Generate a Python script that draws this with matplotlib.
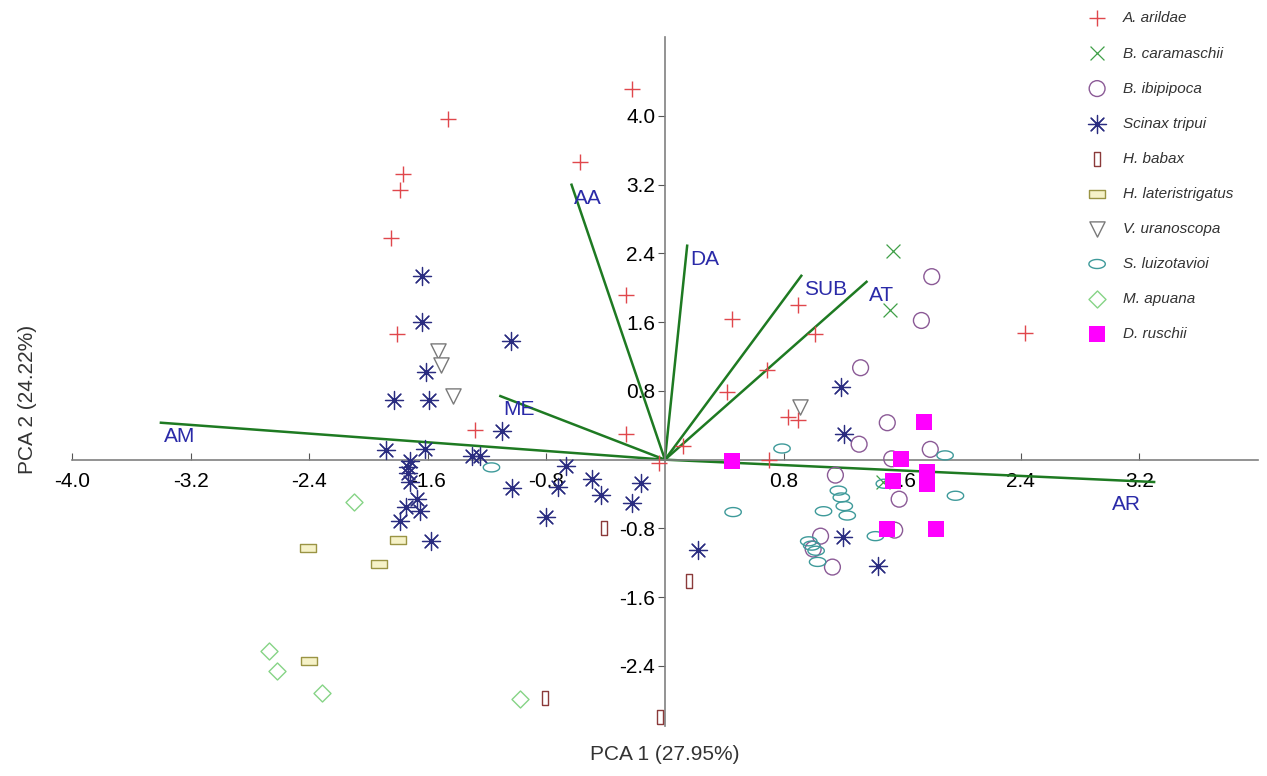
import numpy as np
import matplotlib.pyplot as plt
from matplotlib.ticker import FixedLocator, FormatStrFormatter

plt.rcParams['font.family'] = ['Liberation Sans', 'DejaVu Sans']

# --- scores (PCA 1, PCA 2) ---
arildae_x = [-0.22, -1.46, -0.57, -1.77, -1.79, -1.85, -0.26, -1.81, 0.45, 0.90, 1.01,
             2.43, 0.69, 0.42, 0.12, -0.26, -1.28, -0.04, 0.83, 0.90, 0.70]
arildae_y = [4.31, 3.96, 3.46, 3.32, 3.14, 2.58, 1.92, 1.46, 1.64, 1.80, 1.46,
             1.47, 1.04, 0.79, 0.16, 0.30, 0.35, -0.04, 0.50, 0.46, 0.00]

caramaschii_x = [1.54, 1.52, 1.47]
caramaschii_y = [2.43, 1.74, -0.26]

ibipipoca_x = [1.80, 1.73, 1.32, 1.50, 1.31, 1.79, 1.15, 1.53, 1.58, 1.55, 1.05, 1.00, 1.13]
ibipipoca_y = [2.13, 1.62, 1.07, 0.43, 0.18, 0.12, -0.18, 0.01, -0.46, -0.82, -0.89, -1.04, -1.25]

tripui_x = [-1.64, -1.64, -1.04, -1.61, -1.83, -1.59, -1.10, -1.88, -1.62, -1.72, -1.30,
            -1.25, -1.73, -1.73, -1.72, -1.67, -1.75, -1.65, -1.79, -1.58, -1.03, -0.67,
            -0.72, -0.49, -0.43, -0.16, -0.22, -0.80, 0.22, 1.19, 1.21, 1.20, 1.44]
tripui_y = [2.14, 1.60, 1.38, 1.02, 0.69, 0.69, 0.33, 0.11, 0.13, -0.01, 0.04,
            0.04, -0.08, -0.16, -0.26, -0.46, -0.55, -0.60, -0.71, -0.95, -0.33, -0.07,
            -0.32, -0.22, -0.41, -0.27, -0.50, -0.67, -1.05, 0.85, 0.30, -0.90, -1.24]

babax_x = [-0.41, 0.16, -0.81, -0.03]
babax_y = [-0.79, -1.41, -2.77, -2.99]

lateristrigatus_x = [-2.41, -1.93, -1.80, -2.40]
lateristrigatus_y = [-1.03, -1.21, -0.93, -2.34]

uranoscopa_x = [-1.53, -1.51, -1.43, 0.91]
uranoscopa_y = [1.26, 1.10, 0.74, 0.61]

luizotavioi_x = [0.79, 0.46, 1.17, 1.19, 1.21, 1.23, 1.07, 0.97, 0.99, 1.02, 1.03,
                 1.42, 1.89, 1.96, 1.48, -1.17]
luizotavioi_y = [0.13, -0.61, -0.36, -0.44, -0.54, -0.65, -0.60, -0.95, -1.00, -1.06, -1.19,
                 -0.89, 0.05, -0.42, -0.28, -0.09]

apuana_x = [-2.10, -2.67, -2.62, -2.31, -0.98]
apuana_y = [-0.49, -2.23, -2.46, -2.72, -2.78]

ruschii_x = [0.45, 1.75, 1.59, 1.77, 1.77, 1.54, 1.50, 1.83]
ruschii_y = [-0.02, 0.44, 0.01, -0.14, -0.28, -0.25, -0.81, -0.81]

# --- variable loadings (biplot vectors) ---
var_names = ['AM', 'AR', 'AA', 'DA', 'SUB', 'AT', 'ME']
var_x = [-3.40, 3.30, -0.63, 0.15, 0.92, 1.36, -1.11]
var_y = [0.43, -0.26, 3.20, 2.49, 2.14, 2.07, 0.74]

x_ticks = [-4.0, -3.2, -2.4, -1.6, -0.8, 0.8, 1.6, 2.4, 3.2]
y_ticks = [-2.4, -1.6, -0.8, 0.8, 1.6, 2.4, 3.2, 4.0]

# shapes for the two rectangle symbols and the flat ellipse
tall_rect = [(-0.42, -1), (0.42, -1), (0.42, 1), (-0.42, 1), (-0.42, -1)]
flat_rect = [(-1, -0.5), (1, -0.5), (1, 0.5), (-1, 0.5), (-1, -0.5)]
flat_ell = [(np.cos(t), 0.55 * np.sin(t)) for t in np.linspace(0, 2 * np.pi, 40)]

fig = plt.figure(figsize=(12.67, 7.76), dpi=100)
ax = fig.add_axes([0.0568, 0.0644, 0.936, 0.888])

ax.scatter(arildae_x, arildae_y, marker='+', s=120, c='#e0474c', linewidths=1.0,
           label='A. arildae', zorder=3)
ax.scatter(caramaschii_x, caramaschii_y, marker='x', s=100, c='#3f9f47', linewidths=0.9,
           label='B. caramaschii', zorder=3)
ax.scatter(ibipipoca_x, ibipipoca_y, marker='o', s=130, facecolors='none',
           edgecolors='#8b5a96', linewidths=1.0, label='B. ibipipoca', zorder=3)
ax.scatter(tripui_x, tripui_y, marker=(8, 2, 0), s=170, c='#2a2c80', linewidths=0.9,
           label='Scinax tripui', zorder=3)
ax.scatter(babax_x, babax_y, marker=tall_rect, s=110, facecolors='white',
           edgecolors='#8b3a3a', linewidths=1.0, label='H. babax', zorder=3)
ax.scatter(lateristrigatus_x, lateristrigatus_y, marker=flat_rect, s=140, facecolors='#f6f2c8',
           edgecolors='#9a9444', linewidths=1.0, label='H. lateristrigatus', zorder=3)
ax.scatter(uranoscopa_x, uranoscopa_y, marker='v', s=120, facecolors='white',
           edgecolors='#7a7a7a', linewidths=1.0, label='V. uranoscopa', zorder=3)
ax.scatter(luizotavioi_x, luizotavioi_y, marker=flat_ell, s=140, facecolors='none',
           edgecolors='#3e9a9a', linewidths=1.0, label='S. luizotavioi', zorder=3)
ax.scatter(apuana_x, apuana_y, marker='D', s=75, facecolors='white',
           edgecolors='#86d486', linewidths=1.0, label='M. apuana', zorder=3)
ax.scatter(ruschii_x, ruschii_y, marker='s', s=120, c='#ff00ff', linewidths=0,
           label='D. ruschii', zorder=4)

# loading vectors and their names
for name, vx, vy in zip(var_names, var_x, var_y):
    ax.plot([0, vx], [0, vy], color='#1e7a22', lw=1.8, zorder=2)
    off = (-30, -9) if name == 'AR' else (2, -3)
    ax.annotate(name, (vx, vy), xytext=off, textcoords='offset points',
                ha='left', va='top', fontsize=15, color='#2a2aa8', zorder=5)

ax.set_xlim(-4.0, 4.0)
ax.set_ylim(-3.1, 4.92)

for side in ['top', 'right']:
    ax.spines[side].set_visible(False)
ax.spines['left'].set_position(('data', 0))
ax.spines['bottom'].set_position(('data', 0))
for side in ['left', 'bottom']:
    ax.spines[side].set_color('#808080')
    ax.spines[side].set_linewidth(1.2)

ax.xaxis.set_major_locator(FixedLocator(x_ticks))
ax.yaxis.set_major_locator(FixedLocator(y_ticks))
ax.xaxis.set_major_formatter(FormatStrFormatter('%.1f'))
ax.yaxis.set_major_formatter(FormatStrFormatter('%.1f'))
ax.tick_params(axis='x', direction='in', length=5, color='#555555', labelsize=15, pad=9)
ax.tick_params(axis='y', direction='out', length=5, color='#555555', labelsize=15, pad=2)

fig.text(0.525, 0.016, 'PCA 1 (27.95%)', ha='center', va='bottom', fontsize=15, color='#333333')
fig.text(0.022, 0.485, 'PCA 2 (24.22%)', ha='center', va='center', rotation=90,
         fontsize=15, color='#333333')

fig.legend(loc='upper left', bbox_to_anchor=(0.843, 1.003), frameon=False,
           prop={'style': 'italic', 'size': 11}, labelcolor='#333333',
           labelspacing=1.38, handletextpad=0.7, scatterpoints=1)

fig.savefig('out.png', dpi=100)
